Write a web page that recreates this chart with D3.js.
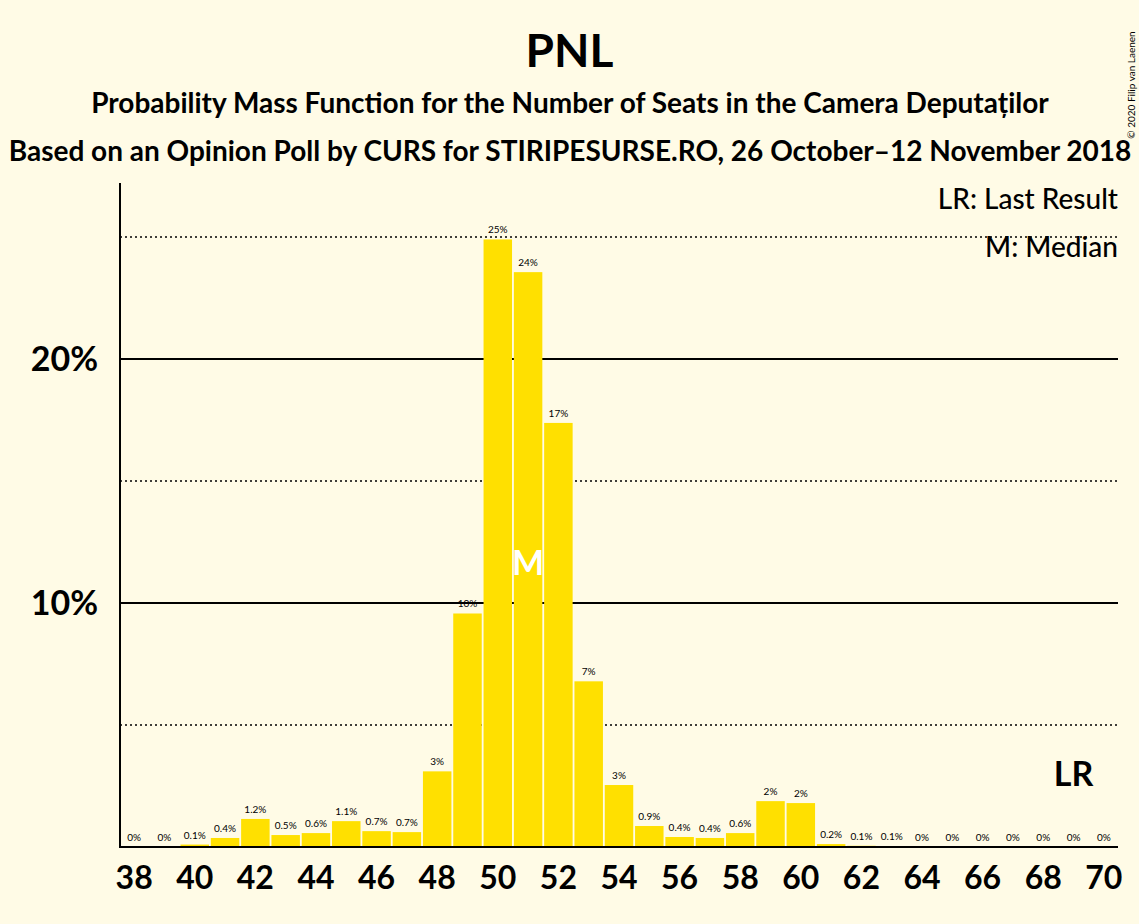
<!DOCTYPE html>
<html><head><meta charset="utf-8">
<script src="https://cdn.jsdelivr.net/npm/d3@7"></script>
<style>body{margin:0;background:#FFFBE6}svg{display:block}text{font-family:Lato,"DejaVu Sans",sans-serif}</style>
</head><body>
<script>
const seats = d3.range(38, 71);
const probs = [0,0,0.1,0.37,1.15,0.49,0.57,1.06,0.65,0.61,3.1,9.57,24.9,23.56,17.38,6.79,2.54,0.86,0.41,0.37,0.57,1.88,1.8,0.12,0.05,0.03,0,0,0,0,0,0,0];
const labels = ["0%","0%","0.1%","0.4%","1.2%","0.5%","0.6%","1.1%","0.7%","0.7%","3%","10%","25%","24%","17%","7%","3%","0.9%","0.4%","0.4%","0.6%","2%","2%","0.2%","0.1%","0.1%","0%","0%","0%","0%","0%","0%","0%"];
const xTicks = d3.range(38, 71, 2);
const yTicks = [10, 20];
const dotted = [5, 15, 25];
const median = 51, lastResult = 69;

const W = 1139, H = 924;
const svg = d3.select("body").append("svg").attr("width", W).attr("height", H);
svg.append("rect").attr("width", W).attr("height", H).attr("fill", "#FFFBE6");
const x = d3.scaleBand().domain(seats).range([119, 1119]).paddingInner(0.06).paddingOuter(0.03);
const y = d3.scaleLinear().domain([0, 10]).range([847, 603]);

svg.selectAll(".dg").data(dotted).join("line").attr("x1", 120).attr("x2", 1118)
  .attr("y1", d => y(d)).attr("y2", d => y(d)).attr("stroke", "#000").attr("stroke-dasharray", "2,3").attr("stroke-width", 1.3);
svg.selectAll(".sg").data(yTicks).join("line").attr("x1", 120).attr("x2", 1118)
  .attr("y1", d => y(d)).attr("y2", d => y(d)).attr("stroke", "#000").attr("stroke-width", 2);

svg.selectAll(".bar").data(seats).join("rect")
  .attr("x", d => x(d)).attr("width", x.bandwidth())
  .attr("y", (d, i) => y(probs[i])).attr("height", (d, i) => y(0) - y(probs[i]))
  .attr("fill", "#FFE000");

svg.selectAll(".lab").data(seats).join("text")
  .attr("x", d => x(d) + x.bandwidth() / 2).attr("y", (d, i) => y(probs[i]) - 6)
  .attr("text-anchor", "middle").attr("font-size", 10).attr("fill", "#000").text((d, i) => labels[i]);

svg.append("text").attr("x", x(median) + x.bandwidth() / 2).attr("y", 575).attr("text-anchor", "middle")
  .attr("font-size", 34).attr("font-weight", "bold").attr("fill", "#fff").text("M");
svg.append("text").attr("x", x(lastResult) + x.bandwidth() / 2).attr("y", 786).attr("text-anchor", "middle")
  .attr("font-size", 34).attr("font-weight", "bold").attr("fill", "#000").text("LR");

svg.append("line").attr("x1", 120).attr("x2", 120).attr("y1", 183).attr("y2", 848).attr("stroke", "#000").attr("stroke-width", 2);
svg.append("line").attr("x1", 119).attr("x2", 1118).attr("y1", 847).attr("y2", 847).attr("stroke", "#000").attr("stroke-width", 2);

svg.selectAll(".xt").data(xTicks).join("text").attr("x", d => x(d) + x.bandwidth() / 2).attr("y", 889)
  .attr("text-anchor", "middle").attr("font-size", 32).attr("font-weight", "bold").text(d => d);
svg.selectAll(".yt").data(yTicks).join("text").attr("x", 98).attr("y", d => y(d) + 12)
  .attr("text-anchor", "end").attr("font-size", 34).attr("font-weight", "bold").text(d => d + "%");

svg.append("text").attr("x", W / 2).attr("y", 67).attr("text-anchor", "middle").attr("font-size", 46).attr("font-weight", "bold").text("PNL");
svg.append("text").attr("x", 570).attr("y", 113).attr("text-anchor", "middle").attr("font-size", 28).attr("font-weight", "bold").text("Probability Mass Function for the Number of Seats in the Camera Deputaților");
svg.append("text").attr("x", 570).attr("y", 161).attr("text-anchor", "middle").attr("font-size", 28).attr("font-weight", "bold").text("Based on an Opinion Poll by CURS for STIRIPESURSE.RO, 26 October–12 November 2018");
svg.append("text").attr("x", 1118).attr("y", 209).attr("text-anchor", "end").attr("font-size", 28).attr("font-weight", 500).text("LR: Last Result");
svg.append("text").attr("x", 1118).attr("y", 257).attr("text-anchor", "end").attr("font-size", 28).attr("font-weight", 500).text("M: Median");
svg.append("text").attr("transform", "translate(1135,85) rotate(-90)").attr("text-anchor", "middle").attr("font-size", 10).text("© 2020 Filip van Laenen");
</script>
</body></html>
